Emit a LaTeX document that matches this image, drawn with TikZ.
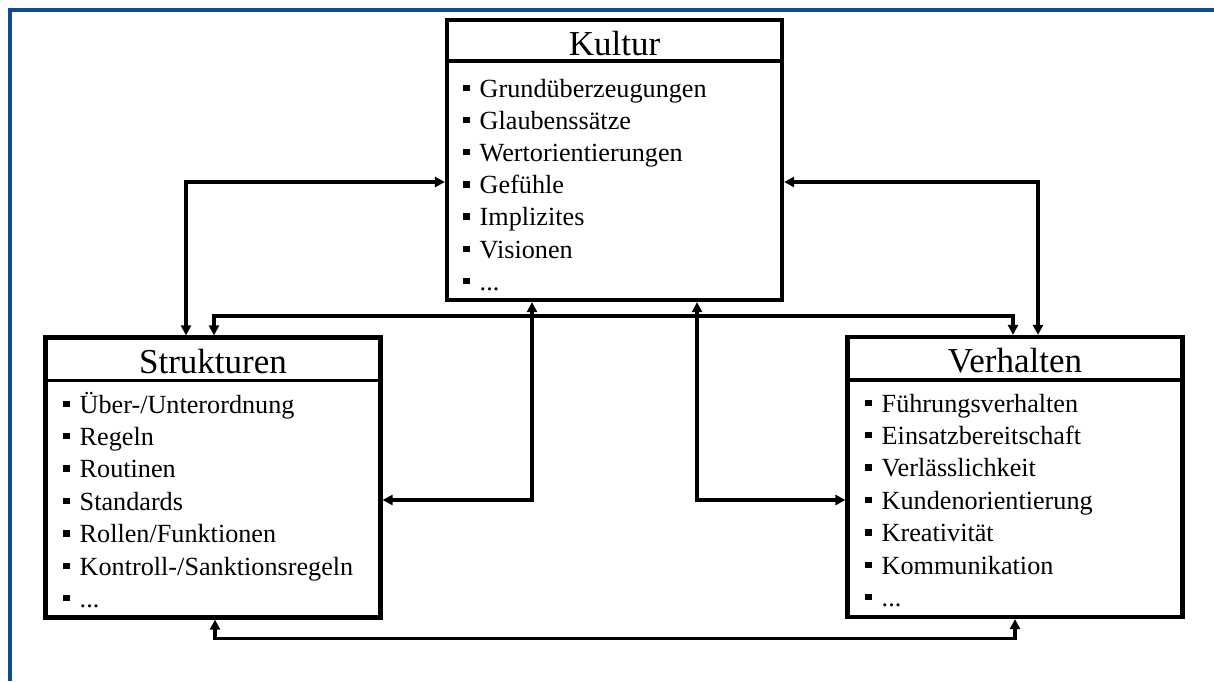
\documentclass[tikz,border=0pt]{standalone}
\usepackage{fontspec}
\setmainfont{Liberation Serif}
\usetikzlibrary{arrows.meta,calc}
\definecolor{frameblue}{RGB}{14,76,138}

\tikzset{
  panel/.style={draw=black, line width=4.2pt, fill=white, rectangle,
    minimum width=335pt, minimum height=280pt, inner sep=0pt},
  headline/.style={draw=black, line width=3.8pt},
  title/.style={anchor=base, inner sep=0pt, font=\fontsize{35}{40}\selectfont},
  entry/.style={anchor=base west, inner sep=0pt, font=\fontsize{26.2}{30}\selectfont},
  link/.style={draw=black, line width=3.3pt,
    {Triangle[length=10pt,width=10pt]}-{Triangle[length=10pt,width=10pt]}},
}
\newcommand{\sqbullet}{\raisebox{6pt}{\rule{6.5pt}{6.5pt}}\hspace{10pt}}
\newcommand{\etcdots}{...}

\begin{document}
\begin{tikzpicture}[x=1pt, y=-1pt]
  \useasboundingbox (0,0) rectangle (1214,681);
  \fill[white] (0,0) rectangle (1214,681);

  % frame edges (top and left)
  \draw[frameblue, line width=4pt] (9.5,681) -- (9.5,9.5) -- (1214,9.5);

  % the three panels
  \node[panel] (K) at (614.5,160) {};
  \node[panel] (S) at (213,477.5) {};
  \node[panel] (V) at (1015,477) {};

  % header separators
  \draw[headline] ([yshift=-43pt]K.north west) -- ([yshift=-43pt]K.north east);
  \draw[headline] ([yshift=-45pt]S.north west) -- ([yshift=-45pt]S.north east);
  \draw[headline] ([yshift=-45pt]V.north west) -- ([yshift=-45pt]V.north east);

  % titles
  \node[title] (Kt) at (614.5,55) {Kultur};
  \node[title] (St) at (213,373) {Strukturen};
  \node[title] (Vt) at (1015,372) {Verhalten};

  % Kultur entries
  \foreach \t [count=\i from 0] in {Grundüberzeugungen, Glaubenssätze,
      Wertorientierungen, Gefühle, Implizites, Visionen, \etcdots}
    \node[entry] (K\i) at (463, 97+32.2*\i) {\sqbullet\t};

  % Strukturen entries
  \foreach \t [count=\i from 0] in {Über-/Unterordnung, Regeln, Routinen,
      Standards, Rollen/Funktionen, Kontroll-/Sanktionsregeln, \etcdots}
    \node[entry] (S\i) at (63, 413+32.4*\i) {\sqbullet\t};

  % Verhalten entries
  \foreach \t [count=\i from 0] in {Führungsverhalten, Einsatzbereitschaft,
      Verlässlichkeit, Kundenorientierung, Kreativität, Kommunikation, \etcdots}
    \node[entry] (V\i) at (865, 412+32.4*\i) {\sqbullet\t};

  % connectors
  \draw[link] ([yshift=-22pt]K.west) -| ([xshift=-27pt]S.north);
  \draw[link] ([yshift=-22pt]K.east) -| ([xshift=23pt]V.north);
  \draw[link] ([xshift=1pt]S.north) -- ++(0,-19.5) -| ([xshift=-2pt]V.north);
  \draw[link] ([yshift=-22.5pt]S.east) -| ([xshift=-82.5pt]K.south);
  \draw[link] ([yshift=-23pt]V.west) -| ([xshift=82.5pt]K.south);
  \draw[link] ([xshift=2pt]S.south) -- ++(0,19) -| (V.south);
\end{tikzpicture}
\end{document}
